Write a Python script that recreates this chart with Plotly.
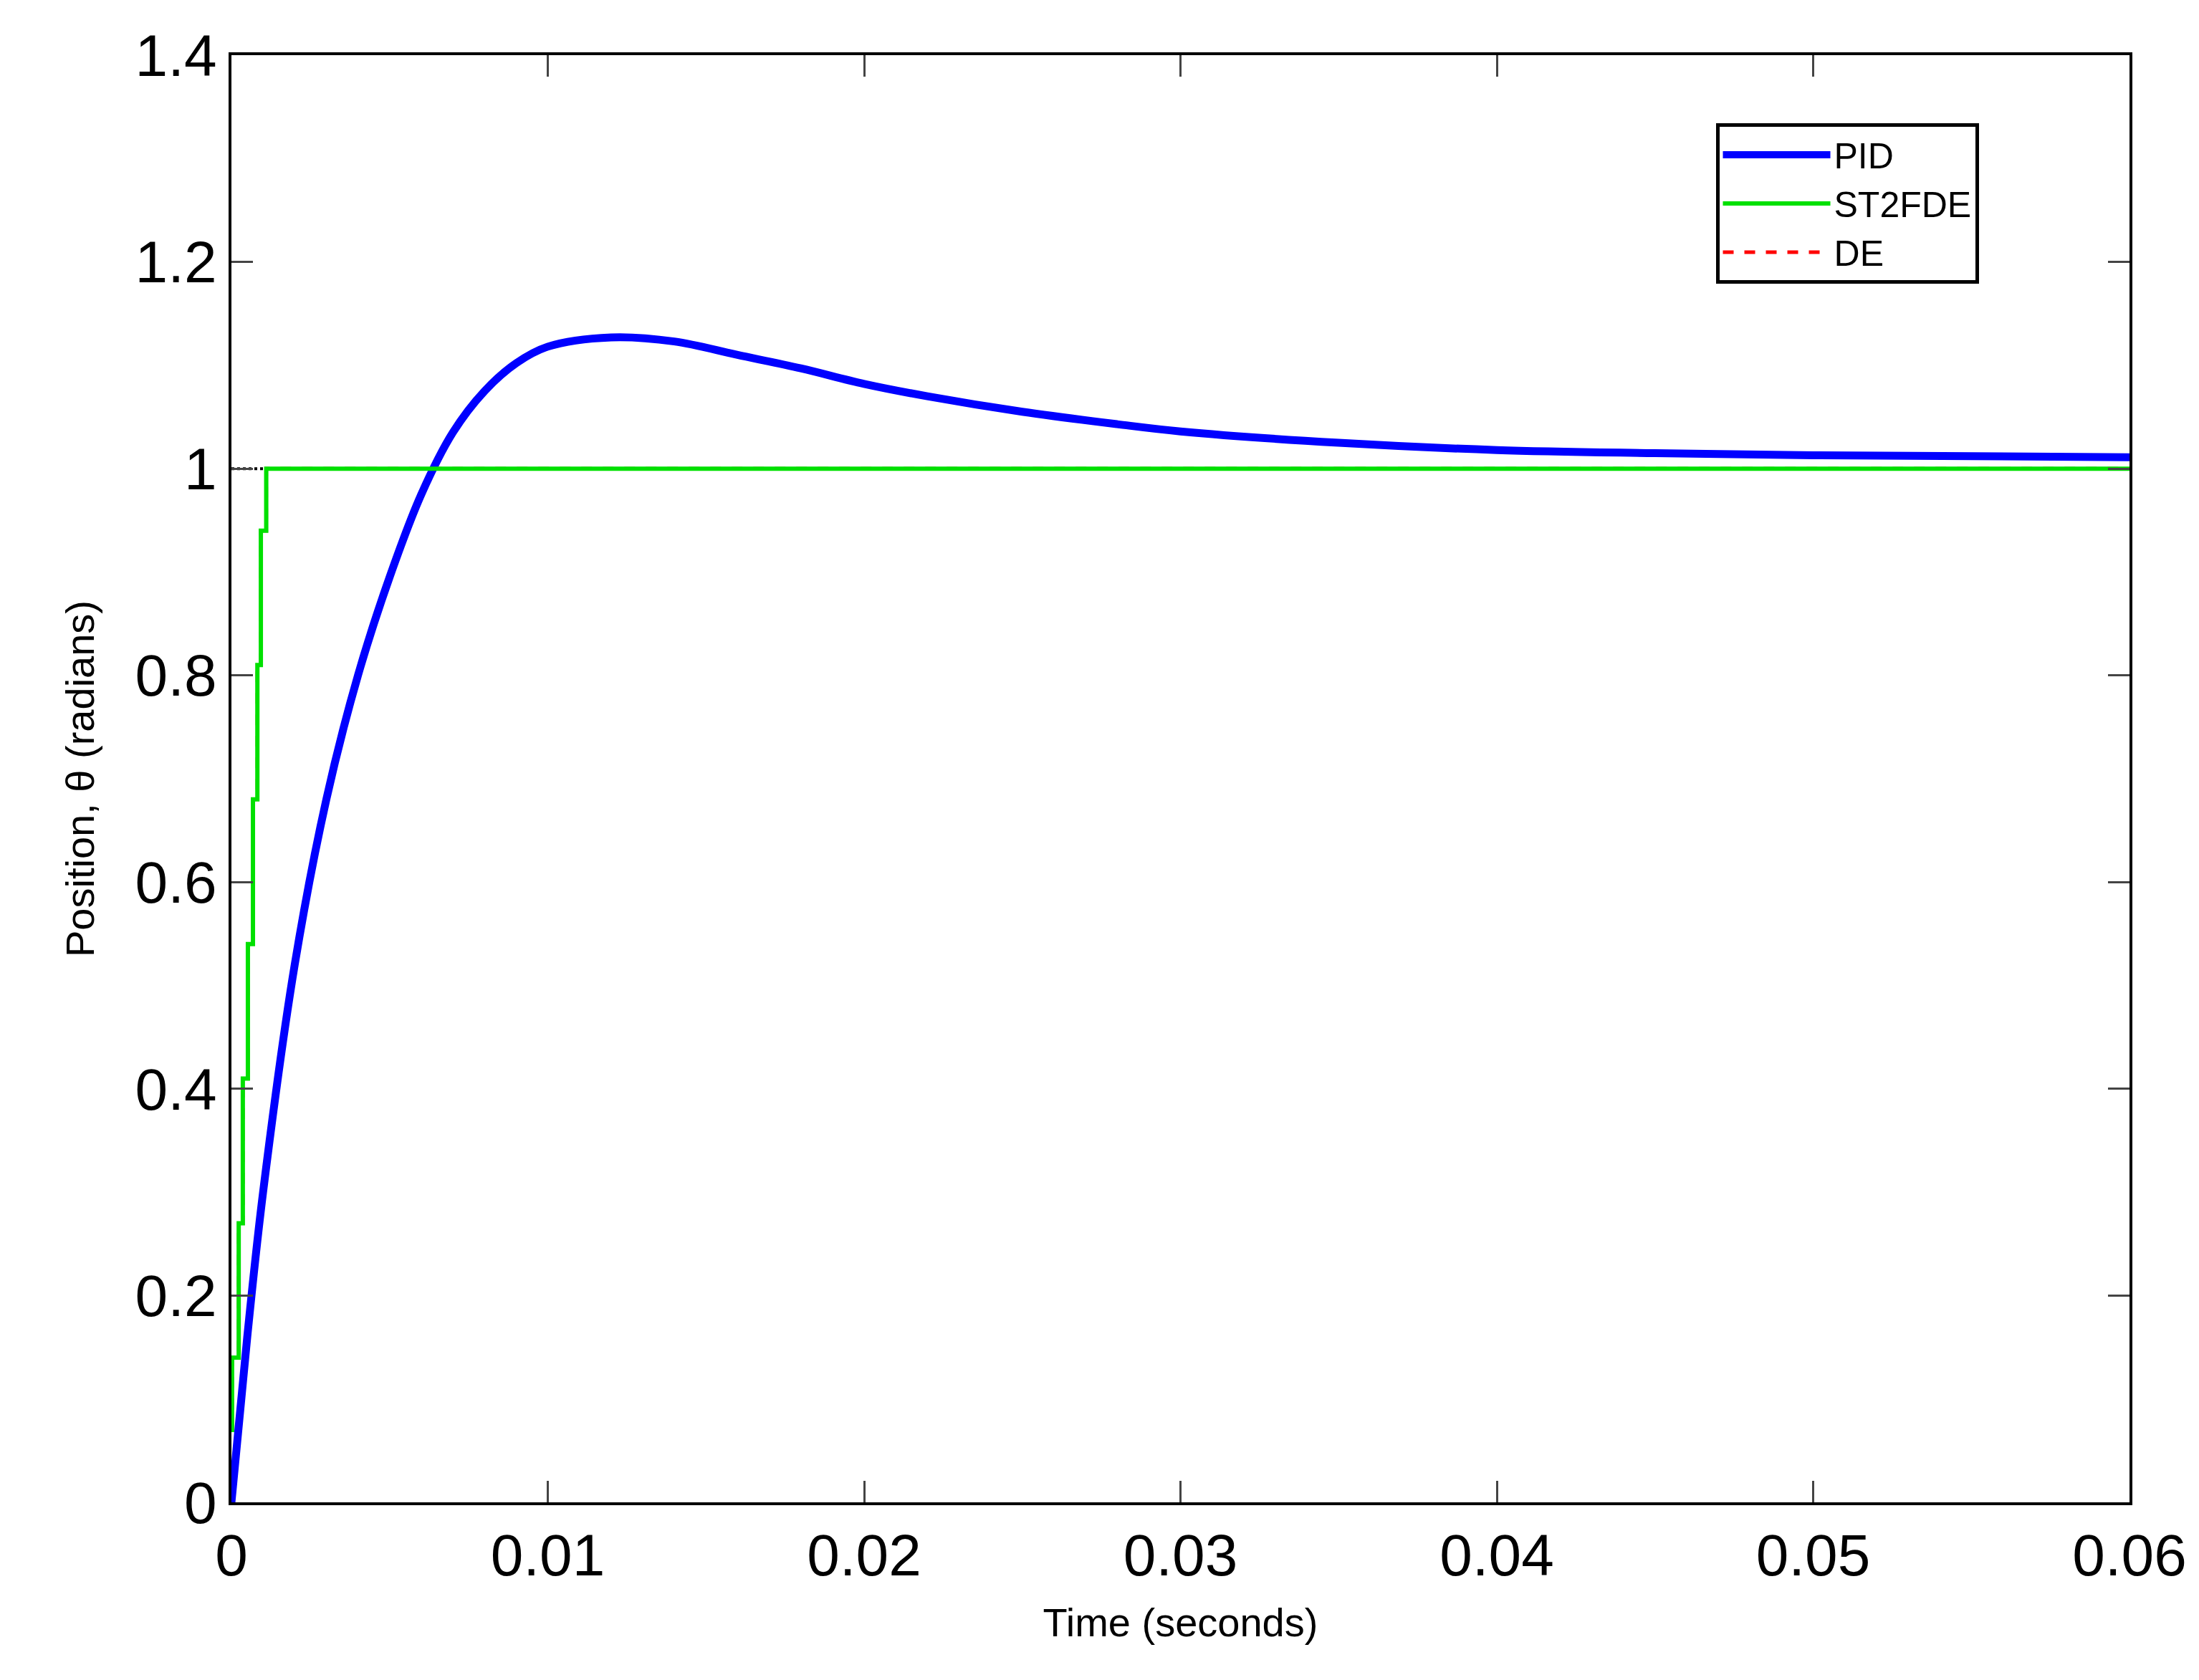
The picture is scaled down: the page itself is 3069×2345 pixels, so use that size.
import plotly.graph_objects as go

pid_t = [0, 0.0005, 0.001, 0.002, 0.003, 0.004, 0.005, 0.006, 0.007, 0.008, 0.009, 0.010, 0.012, 0.014,
         0.016, 0.018, 0.020, 0.022, 0.025, 0.028, 0.030, 0.035, 0.040, 0.045, 0.050, 0.060]
pid_y = [0, 0.16, 0.30, 0.52, 0.68, 0.80, 0.895, 0.975, 1.035, 1.075, 1.102, 1.118, 1.127, 1.123,
         1.11, 1.097, 1.082, 1.07, 1.055, 1.043, 1.036, 1.025, 1.018, 1.015, 1.013, 1.011]
st_t = [0, 0.00002, 0.00023, 0.00036, 0.00052, 0.00068, 0.00082, 0.00093, 0.0011, 0.06]
st_y = [0.07, 0.14, 0.27, 0.41, 0.54, 0.68, 0.81, 0.94, 1.0, 1.0]
de_t = [0, 0.00002, 0.00023, 0.00036, 0.00052, 0.00068, 0.00082, 0.00093, 0.0011, 0.06]
de_y = [0.07, 0.14, 0.27, 0.41, 0.54, 0.68, 0.81, 0.94, 1.0, 1.0]
ref_t = [0, 0.06]
ref_y = [1.0, 1.0]
xticks = [0, 0.01, 0.02, 0.03, 0.04, 0.05, 0.06]
xlabels = ["0", "0.01", "0.02", "0.03", "0.04", "0.05", "0.06"]
yticks = [0, 0.2, 0.4, 0.6, 0.8, 1.0, 1.2, 1.4]
ylabels = ["0", "0.2", "0.4", "0.6", "0.8", "1", "1.2", "1.4"]

fig = go.Figure()
fig.add_trace(go.Scatter(x=ref_t, y=ref_y, mode="lines", showlegend=False,
                         line=dict(color="black", width=4, dash="dot")))
fig.add_trace(go.Scatter(x=de_t, y=de_y, mode="lines", name="DE", line_shape="hv", legendrank=3,
                         line=dict(color="#ff0000", width=5, dash="dash")))
fig.add_trace(go.Scatter(x=pid_t, y=pid_y, mode="lines", name="PID", line_shape="spline", legendrank=1,
                         line=dict(color="#0000ff", width=11)))
fig.add_trace(go.Scatter(x=st_t, y=st_y, mode="lines", name="ST2FDE", line_shape="hv", legendrank=2,
                         line=dict(color="#00e000", width=6)))

fig.update_layout(
    width=3069, height=2345, paper_bgcolor="white", plot_bgcolor="white",
    margin=dict(l=315, r=105, t=69, b=256),
    font=dict(family="Liberation Sans", color="black"),
    legend=dict(x=0.782, y=0.953, xanchor="left", yanchor="top", bgcolor="white",
                bordercolor="black", borderwidth=5, font=dict(size=50),
                itemwidth=150, tracegroupgap=30),
    showlegend=True,
)
fig.update_xaxes(range=[0, 0.06], tickvals=xticks, ticktext=xlabels, ticks="inside", ticklen=30,
                 tickwidth=3, mirror="ticks", showline=True, linecolor="black", linewidth=4,
                 showgrid=False, zeroline=False, tickfont=dict(size=82),
                 title=dict(text="Time (seconds)", font=dict(size=56), standoff=30))
fig.update_yaxes(range=[0, 1.4], tickvals=yticks, ticktext=ylabels, ticks="inside", ticklen=30,
                 tickwidth=3, mirror="ticks", showline=True, linecolor="black", linewidth=4,
                 showgrid=False, zeroline=False, tickfont=dict(size=82),
                 title=dict(text="Position, θ (radians)", font=dict(size=56), standoff=40))
fig.write_html("out.html")
